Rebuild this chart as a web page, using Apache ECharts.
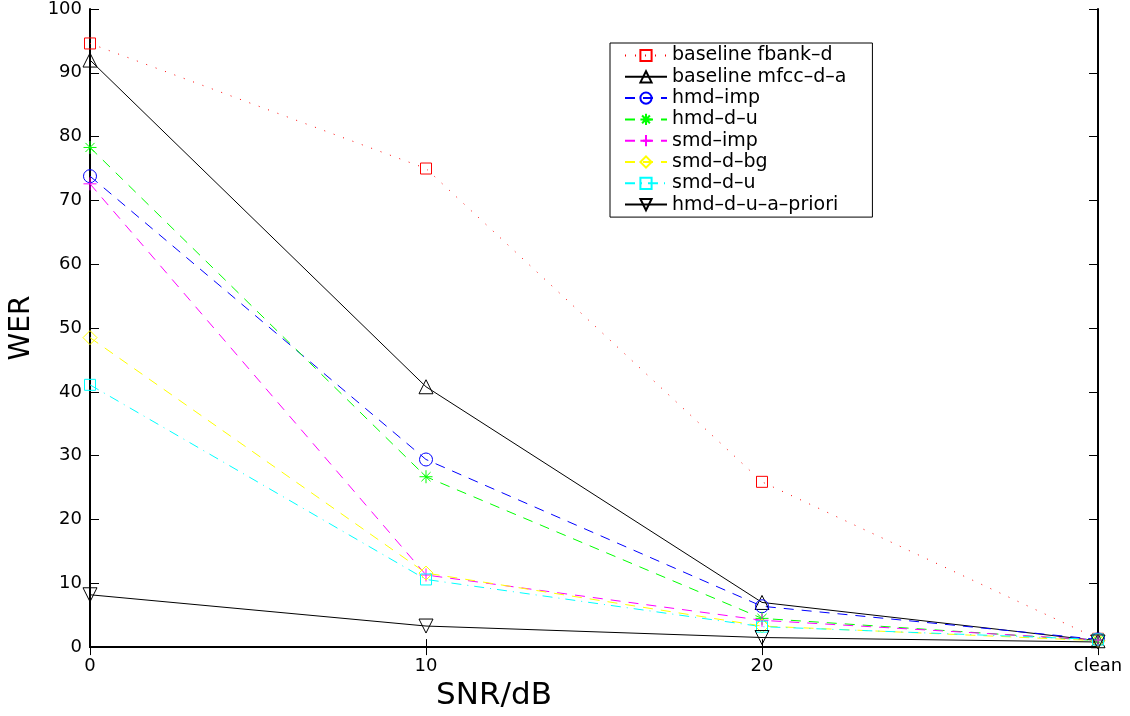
<!DOCTYPE html>
<html>
<head>
<meta charset="utf-8">
<script src="https://cdn.jsdelivr.net/npm/echarts@6/dist/echarts.min.js"></script>
<style>
html,body{margin:0;padding:0;background:#fff;overflow:hidden;}
#chart{width:1130px;height:716px;}
</style>
</head>
<body>
<div id="chart"></div>
<script>
const categories = ['0', '10', '20', 'clean'];
const yTicks = [0, 10, 20, 30, 40, 50, 60, 70, 80, 90, 100];
const seriesNames = ['baseline fbank–d', 'baseline mfcc–d–a', 'hmd–imp', 'hmd–d–u', 'smd–imp', 'smd–d–bg', 'smd–d–u', 'hmd–d–u–a–priori'];
const fbankD   = [94.6, 75.0, 25.9, 1.3];
const mfccDA   = [92.0, 40.8, 7.0, 1.0];
const hmdImp   = [73.8, 29.4, 6.4, 1.2];
const hmdDU    = [78.3, 26.7, 4.5, 1.0];
const smdImp   = [72.6, 11.3, 4.2, 1.1];
const smdDBg   = [48.5, 11.6, 3.3, 1.0];
const smdDU    = [41.1, 10.6, 3.2, 1.2];
const hmdDUAPriori = [8.2, 3.3, 1.5, 0.8];

const FONT = 'DejaVu Sans';
const SYM_RECT = 'path://M0,0L10,0L10,10L0,10Z';
const SYM_STAR = 'path://M5,0L5,10M0,5L10,5M1.5,1.5L8.5,8.5M8.5,1.5L1.5,8.5';
const SYM_PLUS = 'path://M5,0L5,10M0,5L10,5';

function mk(name, data, color, dash, symbol, size, rotate) {
  return {
    name: name,
    type: 'line',
    data: data,
    symbol: symbol,
    symbolSize: size,
    symbolRotate: rotate || 0,
    showAllSymbol: true,
    animation: false,
    lineStyle: { color: color, width: 1, type: dash },
    itemStyle: { color: 'rgba(255,255,255,0)', borderColor: color, borderWidth: 1 },
    emphasis: { disabled: true }
  };
}

const chart = echarts.init(document.getElementById('chart'), null, { renderer: 'canvas', width: 1130, height: 716 });
const axisLineStyle = { color: '#000', width: 2 };
chart.setOption({
  backgroundColor: '#fff',
  animation: false,
  grid: { left: 90, top: 6.5, width: 1008, height: 648.5, containLabel: false },
  legend: {
    data: seriesNames,
    orient: 'vertical',
    left: 610,
    top: 43,
    backgroundColor: '#fff',
    borderColor: '#000',
    borderWidth: 1,
    padding: [3, 26, 3, 14],
    itemWidth: 42,
    itemHeight: 14,
    itemGap: 2.3,
    textStyle: { fontFamily: FONT, fontSize: 19, color: '#000', lineHeight: 18 },
    selectedMode: false
  },
  xAxis: [{
    type: 'category',
    data: categories,
    boundaryGap: false,
    name: 'SNR/dB',
    nameLocation: 'middle',
    nameGap: 21,
    nameTextStyle: { fontFamily: FONT, fontSize: 31, color: '#000', padding: [0, 200, 0, 0] },
    axisLine: { lineStyle: axisLineStyle },
    axisTick: { inside: true, length: 8, alignWithLabel: true, lineStyle: { color: '#000' } },
    axisLabel: { fontFamily: FONT, fontSize: 18, color: '#000', margin: 10 },
    splitLine: { show: false }
  }, {
    type: 'category',
    data: categories,
    boundaryGap: false,
    position: 'top',
    axisLine: { lineStyle: axisLineStyle },
    axisTick: { inside: true, length: 8, lineStyle: { color: '#000' } },
    axisLabel: { show: false },
    splitLine: { show: false }
  }],
  yAxis: [{
    type: 'value',
    min: 0, max: 100, interval: 10,
    name: 'WER',
    nameLocation: 'middle',
    nameGap: 54,
    nameRotate: 90,
    nameTextStyle: { fontFamily: FONT, fontSize: 28, color: '#000' },
    axisLine: { show: true, lineStyle: axisLineStyle },
    axisTick: { show: true, inside: true, length: 9, lineStyle: { color: '#000' } },
    axisLabel: { fontFamily: FONT, fontSize: 18, color: '#000', margin: 8,
      formatter: function (v) { return yTicks.indexOf(v) >= 0 ? String(v) : ''; } },
    splitLine: { show: false }
  }, {
    type: 'value',
    min: 0, max: 100, interval: 10,
    position: 'right',
    axisLine: { show: true, lineStyle: axisLineStyle },
    axisTick: { show: true, inside: true, length: 9, lineStyle: { color: '#000' } },
    axisLabel: { show: false },
    splitLine: { show: false }
  }],
  series: [
    mk(seriesNames[0], fbankD, '#ff0000', [1, 9], SYM_RECT, 11),
    mk(seriesNames[1], mfccDA, '#000000', 'solid', 'triangle', 14),
    mk(seriesNames[2], hmdImp, '#0000ff', [10, 8], 'circle', 13),
    mk(seriesNames[3], hmdDU, '#00ff00', [10, 8], SYM_STAR, 13),
    mk(seriesNames[4], smdImp, '#ff00ff', [10, 8], SYM_PLUS, 13),
    mk(seriesNames[5], smdDBg, '#ffff00', [10, 8], 'diamond', 14),
    mk(seriesNames[6], smdDU, '#00ffff', [10, 6, 1, 6], SYM_RECT, 11),
    mk(seriesNames[7], hmdDUAPriori, '#000000', 'solid', 'triangle', 14, 180)
  ]
});
</script>
</body>
</html>
